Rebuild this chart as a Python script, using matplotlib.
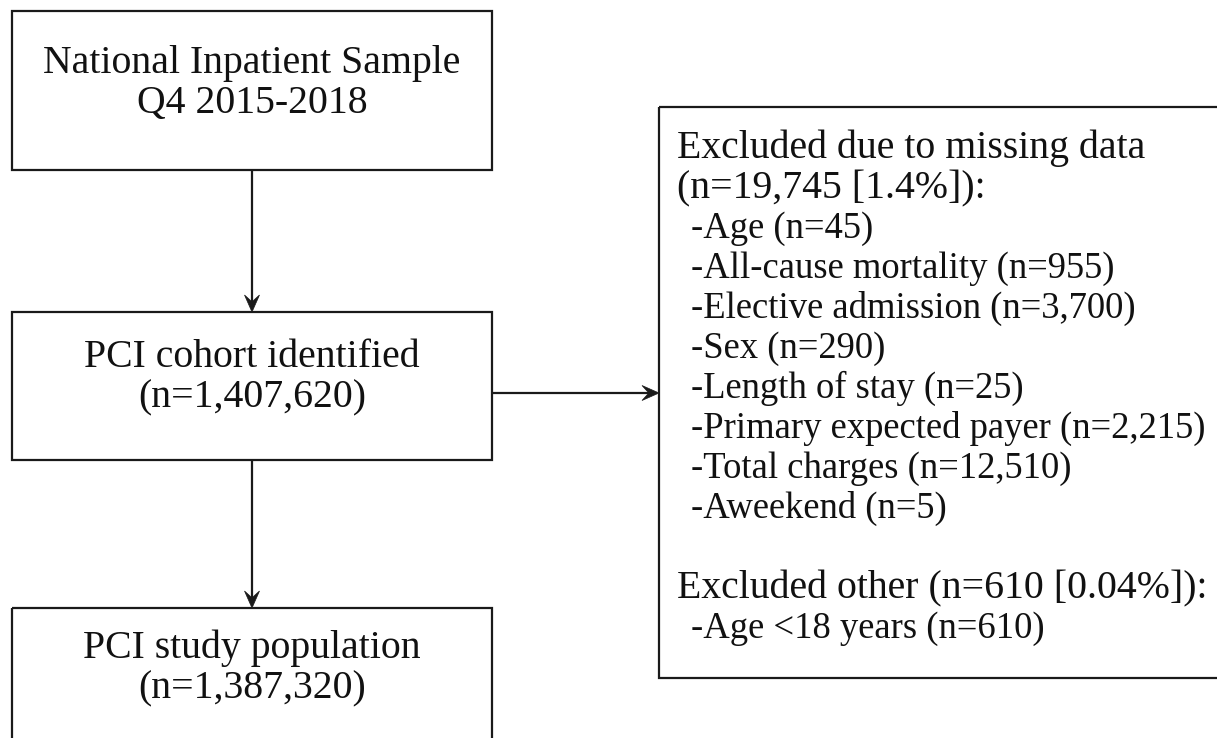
import matplotlib
matplotlib.use("Agg")
import matplotlib.pyplot as plt
import numpy as np
from matplotlib.patches import Rectangle, Polygon

# ---- data ----
source_title = ["National Inpatient Sample", "Q4 2015-2018"]
cohort_label = "PCI cohort identified"
cohort_n = 1407620
study_label = "PCI study population"
study_n = 1387320

missing_n = 19745
missing_pct = "1.4%"
missing_items = ["Age", "All-cause mortality", "Elective admission", "Sex",
                 "Length of stay", "Primary expected payer", "Total charges", "Aweekend"]
missing_counts = [45, 955, 3700, 290, 25, 2215, 12510, 5]

other_n = 610
other_pct = "0.04%"
other_items = ["Age <18 years"]
other_counts = [610]

# ---- figure ----
W, H = 1217, 738
fig = plt.figure(figsize=(W / 100, H / 100), dpi=100)
ax = fig.add_axes([0, 0, 1, 1])
ax.set_xlim(0, W)
ax.set_ylim(H, 0)
ax.axis("off")

FONT = "Liberation Serif"
FS = 28.6
FS_SUB = 26.4
EC = "#1a1a1a"
LW = 1.6

def box(x0, y0, x1, y1):
    ax.add_patch(Rectangle((x0, y0), x1 - x0, y1 - y0, fill=False,
                           edgecolor=EC, linewidth=LW, clip_on=False))

def arrow(p0, p1, L=17, Wd=7.5, notch=0.6):
    p0 = np.array(p0, float)
    p1 = np.array(p1, float)
    d = (p1 - p0) / np.linalg.norm(p1 - p0)
    n = np.array([-d[1], d[0]])
    back = p1 - d * L * notch
    ax.plot([p0[0], back[0]], [p0[1], back[1]], color=EC, lw=LW,
            solid_capstyle="butt")
    head = [p1, p1 - d * L + n * Wd, back, p1 - d * L - n * Wd]
    ax.add_patch(Polygon(head, closed=True, facecolor=EC, edgecolor=EC, lw=0.5))

def txt(x, y, s, ha="center", fs=FS):
    ax.text(x, y, s, ha=ha, va="baseline", fontsize=fs, family=FONT, color="#111111")

# left column boxes
box(12, 11, 492, 170)
box(12, 312, 492, 460)
box(12, 608, 492, 760)
cx = 252
txt(cx, 73, source_title[0])
txt(cx, 113, source_title[1])
txt(cx, 367, cohort_label)
txt(cx, 407, f"(n={cohort_n:,})")
txt(cx, 658, study_label)
txt(cx, 698, f"(n={study_n:,})")

arrow((cx, 170), (cx, 312))
arrow((cx, 460), (cx, 608))
arrow((492, 393), (659, 393))

# exclusion box
box(659, 107, 1240, 678)
lines = [("Excluded due to missing data", 0),
         (f"(n={missing_n:,} [{missing_pct}]):", 0)]
lines += [(f"-{k} (n={v:,})", 1) for k, v in zip(missing_items, missing_counts)]
lines += [("", 0), (f"Excluded other (n={other_n:,} [{other_pct}]):", 0)]
lines += [(f"-{k} (n={v:,})", 1) for k, v in zip(other_items, other_counts)]
y0, dy = 158, 40
for i, (s, ind) in enumerate(lines):
    if s:
        txt(677 + 14 * ind, y0 + dy * i, s, ha="left", fs=FS_SUB if ind else FS)

fig.savefig("out.png", dpi=100, facecolor="white")
